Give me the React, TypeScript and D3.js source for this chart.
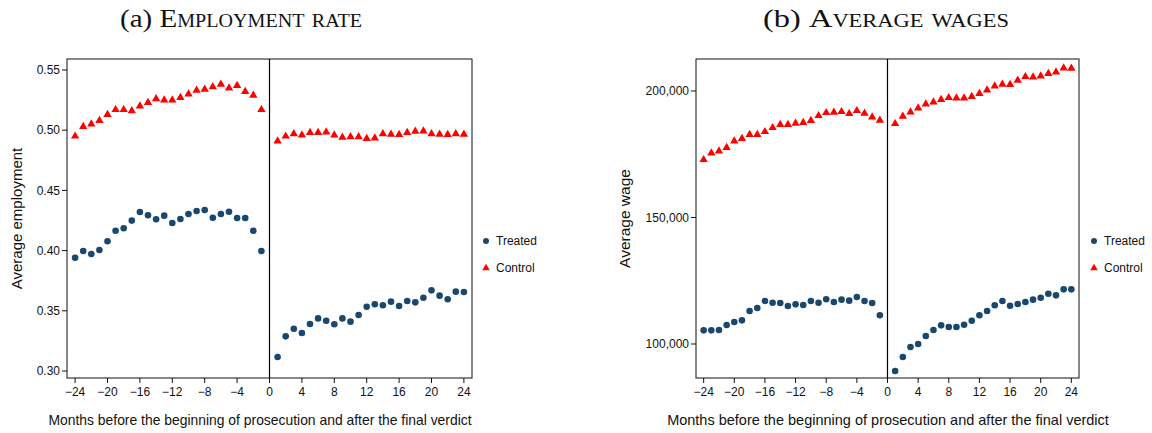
import React from "react";
import * as d3 from "d3";

// Months relative to the event (pre-prosecution and post-verdict)
const monthsBefore = [-24, -23, -22, -21, -20, -19, -18, -17, -16, -15, -14, -13, -12, -11, -10, -9, -8, -7, -6, -5, -4, -3, -2, -1];
const monthsAfter = [1, 2, 3, 4, 5, 6, 7, 8, 9, 10, 11, 12, 13, 14, 15, 16, 17, 18, 19, 20, 21, 22, 23, 24];
const xTicks = [-24, -20, -16, -12, -8, -4, 0, 4, 8, 12, 16, 20, 24];

// Panel (a): average employment
const empTreatedBefore = [0.394, 0.3997, 0.3972, 0.4005, 0.4077, 0.4165, 0.4185, 0.4249, 0.4321, 0.4293, 0.426, 0.429, 0.4229, 0.4262, 0.4304, 0.4329, 0.4337, 0.4273, 0.4304, 0.4323, 0.4271, 0.4271, 0.4165, 0.3997];
const empTreatedAfter = [0.3116, 0.3288, 0.3351, 0.3316, 0.339, 0.3437, 0.3418, 0.3388, 0.3437, 0.341, 0.3465, 0.3534, 0.3554, 0.3546, 0.3576, 0.354, 0.3581, 0.357, 0.3609, 0.367, 0.3626, 0.3596, 0.3659, 0.3656];
const empControlBefore = [0.495, 0.503, 0.505, 0.508, 0.513, 0.517, 0.517, 0.516, 0.52, 0.523, 0.526, 0.525, 0.525, 0.527, 0.53, 0.533, 0.534, 0.536, 0.538, 0.535, 0.537, 0.532, 0.529, 0.517];
const empControlAfter = [0.491, 0.495, 0.497, 0.496, 0.498, 0.498, 0.4985, 0.496, 0.494, 0.4945, 0.4945, 0.493, 0.4935, 0.497, 0.4966, 0.4963, 0.498, 0.499, 0.4993, 0.497, 0.4966, 0.4963, 0.497, 0.4966];
const empTicks = [0.3, 0.35, 0.4, 0.45, 0.5, 0.55];

// Panel (b): average wages
const wageTreatedBefore = [105400, 105400, 105530, 107500, 108690, 109350, 113040, 114230, 116990, 116330, 116200, 115010, 115680, 115410, 116990, 116330, 117660, 116600, 117520, 117130, 118570, 116990, 116200, 111340];
const wageTreatedAfter = [89320, 94860, 98810, 100000, 103160, 105530, 107380, 106720, 106720, 107630, 109210, 111340, 113040, 115290, 116990, 115140, 115800, 116600, 117520, 118310, 119890, 119230, 121600, 121600];
const wageControlBefore = [172850, 175490, 176280, 177600, 180240, 181160, 182740, 182740, 183920, 185500, 186690, 186690, 187220, 187480, 188270, 190240, 191430, 191580, 191820, 191030, 192210, 191180, 189720, 188410];
const wageControlAfter = [187080, 189990, 191700, 193280, 194860, 195650, 196570, 197350, 197230, 197230, 197760, 198950, 200400, 201980, 202630, 202500, 204230, 205650, 205530, 205930, 206850, 207510, 209090, 208970];
const wageTicks = [100000, 150000, 200000];

const BLUE = "#1a476f";
const RED = "#ff0000";
const SANS = "'Liberation Sans', Arial, Helvetica, sans-serif";
const SERIF = "'Liberation Serif', 'Times New Roman', serif";

const triPath = d3.symbol(d3.symbolTriangle, 30)() as string;

type PanelProps = {
  label: string;
  title: string;
  titleX: number;
  titleWidth: number;
  left: number;
  right: number;
  top: number;
  bottom: number;
  yDomain: [number, number];
  yTicks: number[];
  yFormat: (v: number) => string;
  yTitle: string;
  yTitleX: number;
  yTitleSize: number;
  xTitleX: number;
  xTitleSize: number;
  treated: [number[], number[]];
  control: [number[], number[]];
  legendX: number;
};

function minusFmt(v: number) {
  return v < 0 ? "\u2212" + Math.abs(v) : String(v);
}

function Panel(p: PanelProps) {
  const x = d3.scaleLinear().domain([-25, 25]).range([p.left, p.right]);
  const y = d3.scaleLinear().domain(p.yDomain).range([p.bottom, p.top]);
  const cy = (p.top + p.bottom) / 2;

  const pts = (months: number[], vals: number[]) => months.map((m, i) => [x(m), y(vals[i])] as [number, number]);
  const treatedPts = [...pts(monthsBefore, p.treated[0]), ...pts(monthsAfter, p.treated[1])];
  const controlPts = [...pts(monthsBefore, p.control[0]), ...pts(monthsAfter, p.control[1])];

  return (
    <g>
      <text
        x={p.titleX}
        y={27}
        textAnchor="middle"
        fontFamily={SERIF}
        fontSize={26}
        fill="#111"
        textLength={p.titleWidth}
        lengthAdjust="spacingAndGlyphs"
      >
        <tspan>{p.label} </tspan>
        <tspan style={{ fontVariant: "small-caps" }}>{p.title}</tspan>
      </text>
      {/* frame */}
      <rect x={p.left} y={p.top} width={p.right - p.left} height={p.bottom - p.top} fill="none" stroke="#111" strokeWidth={1} />
      {/* event line at month 0 */}
      <line x1={x(0)} x2={x(0)} y1={p.top} y2={p.bottom} stroke="#000" strokeWidth={1.2} />
      {/* y axis */}
      {p.yTicks.map((t) => (
        <g key={t}>
          <line x1={p.left - 5} x2={p.left} y1={y(t)} y2={y(t)} stroke="#111" />
          <text x={p.left - 7} y={y(t)} dy="0.35em" textAnchor="end" fontFamily={SANS} fontSize={12} fill="#111">
            {p.yFormat(t)}
          </text>
        </g>
      ))}
      <text
        transform={`translate(${p.yTitleX},${cy}) rotate(-90)`}
        textAnchor="middle"
        dy="0.35em"
        fontFamily={SANS}
        fontSize={p.yTitleSize}
        fill="#111"
      >
        {p.yTitle}
      </text>
      {/* x axis */}
      {xTicks.map((t) => (
        <g key={t}>
          <line x1={x(t)} x2={x(t)} y1={p.bottom} y2={p.bottom + 5} stroke="#111" />
          <text x={x(t)} y={p.bottom + 18} textAnchor="middle" fontFamily={SANS} fontSize={12} fill="#111">
            {minusFmt(t)}
          </text>
        </g>
      ))}
      <text x={p.xTitleX} y={425} textAnchor="middle" fontFamily={SANS} fontSize={p.xTitleSize} fill="#111">
        Months before the beginning of prosecution and after the final verdict
      </text>
      {/* series */}
      {treatedPts.map(([px, py], i) => (
        <circle key={"t" + i} cx={px} cy={py} r={3.3} fill={BLUE} />
      ))}
      {controlPts.map(([px, py], i) => (
        <path key={"c" + i} d={triPath} transform={`translate(${px},${py})`} fill={RED} />
      ))}
      {/* legend */}
      <circle cx={p.legendX} cy={241} r={3} fill={BLUE} />
      <text x={p.legendX + 10} y={241} dy="0.35em" fontFamily={SANS} fontSize={12} fill="#111">
        Treated
      </text>
      <path d={d3.symbol(d3.symbolTriangle, 24)() as string} transform={`translate(${p.legendX},268)`} fill={RED} />
      <text x={p.legendX + 10} y={268} dy="0.35em" fontFamily={SANS} fontSize={12} fill="#111">
        Control
      </text>
    </g>
  );
}

export default function App() {
  const wageFmt = d3.format(",");
  return (
    <svg width={1152} height={433} style={{ position: "absolute", left: 0, top: 0, background: "#fff" }}>
      <rect width={1152} height={433} fill="#fff" />
      <Panel
        label="(a)"
        title="Employment rate"
        titleX={241}
        titleWidth={242}
        left={67}
        right={472}
        top={59}
        bottom={378}
        yDomain={[0.2942, 0.5591]}
        yTicks={empTicks}
        yFormat={(v) => v.toFixed(2)}
        yTitle="Average employment"
        yTitleX={17}
        yTitleSize={15}
        xTitleX={260}
        xTitleSize={13.9}
        treated={[empTreatedBefore, empTreatedAfter]}
        control={[empControlBefore, empControlAfter]}
        legendX={486}
      />
      <Panel
        label="(b)"
        title="Average wages"
        titleX={886}
        titleWidth={246}
        left={696}
        right={1079}
        top={59}
        bottom={378}
        yDomain={[86561, 212648]}
        yTicks={wageTicks}
        yFormat={(v) => wageFmt(v)}
        yTitle="Average wage"
        yTitleX={625}
        yTitleSize={15.5}
        xTitleX={888}
        xTitleSize={14.5}
        treated={[wageTreatedBefore, wageTreatedAfter]}
        control={[wageControlBefore, wageControlAfter]}
        legendX={1094}
      />
    </svg>
  );
}
